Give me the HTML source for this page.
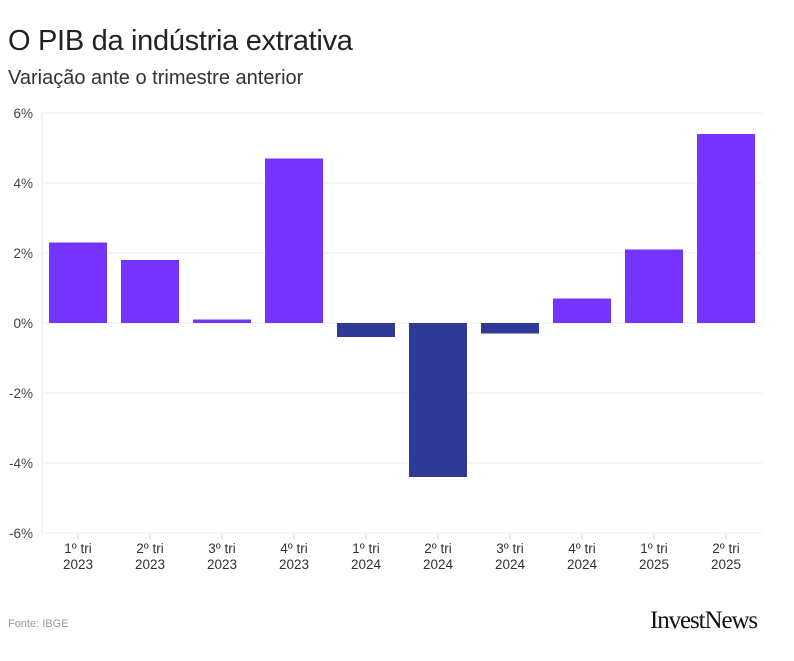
<!DOCTYPE html>
<html><head><meta charset="utf-8"><style>
body{margin:0;background:#fff;width:794px;height:661px;overflow:hidden;font-family:"Liberation Sans",sans-serif}
#title{position:absolute;left:8px;top:25px;font-size:29px;color:#222;letter-spacing:-0.3px}
#sub{position:absolute;left:8px;top:67px;font-size:20px;color:#333}
#src{position:absolute;left:8px;top:618px;font-size:11px;color:#999}
#logo{position:absolute;left:650px;top:607px;font-family:"Liberation Serif",serif;font-size:25px;color:#111;letter-spacing:-1.1px}
svg{position:absolute;left:0;top:0}
</style></head><body>
<div id="title">O PIB da indústria extrativa</div>
<div id="sub">Variação ante o trimestre anterior</div>
<svg id="chart" width="794" height="661"></svg>
<div id="src">Fonte: IBGE</div>
<div id="logo">InvestNews</div>
<script>
const categories=["1º tri|2023","2º tri|2023","3º tri|2023","4º tri|2023","1º tri|2024","2º tri|2024","3º tri|2024","4º tri|2024","1º tri|2025","2º tri|2025"];
const values=[2.3,1.8,0.1,4.7,-0.4,-4.4,-0.3,0.7,2.1,5.4];
const yTicks=[6,4,2,0,-2,-4,-6];
const ns="http://www.w3.org/2000/svg",svg=document.getElementById('chart');
const L=42,R=762,T=113,B=533,yMin=-6,yMax=6;
const y=v=>T+(yMax-v)/(yMax-yMin)*(B-T);
const step=(R-L)/categories.length;
const x=i=>L+step*(i+0.5);
function mk(t,a){const e=document.createElementNS(ns,t);for(const k in a)e.setAttribute(k,a[k]);svg.appendChild(e);return e;}
yTicks.forEach(v=>{
const g=mk('line',{x1:L,x2:R,y1:y(v),y2:y(v),stroke:'#ececec','stroke-width':1});


const t=mk('text',{x:L-9,y:y(v)+5,'text-anchor':'end','font-size':13.5,fill:'#444','font-family':'Liberation Sans, sans-serif'});
t.textContent=v+'%';


});
const ax=mk('line',{x1:L,x2:L,y1:T,y2:B,stroke:'#e6e6e6'});


const bw=58;
values.forEach((v,i)=>{
const y0=y(Math.max(v,0)),h=Math.abs(y(v)-y(0));
const r=mk('rect',{x:x(i)-bw/2,y:y0,width:bw,height:Math.max(h,1),fill:v>=0?'#7433ff':'#2e3a96'});


const tk=mk('line',{x1:x(i),x2:x(i),y1:B+1,y2:B+7,stroke:'#ddd'});


const [a,b]=categories[i].split('|');
[a,b].forEach((s,j)=>{
const t=mk('text',{x:x(i),y:B+20+j*16,'text-anchor':'middle','font-size':13.5,fill:'#333','font-family':'Liberation Sans, sans-serif'});
t.textContent=s;


});
});
</script>
</body></html>
